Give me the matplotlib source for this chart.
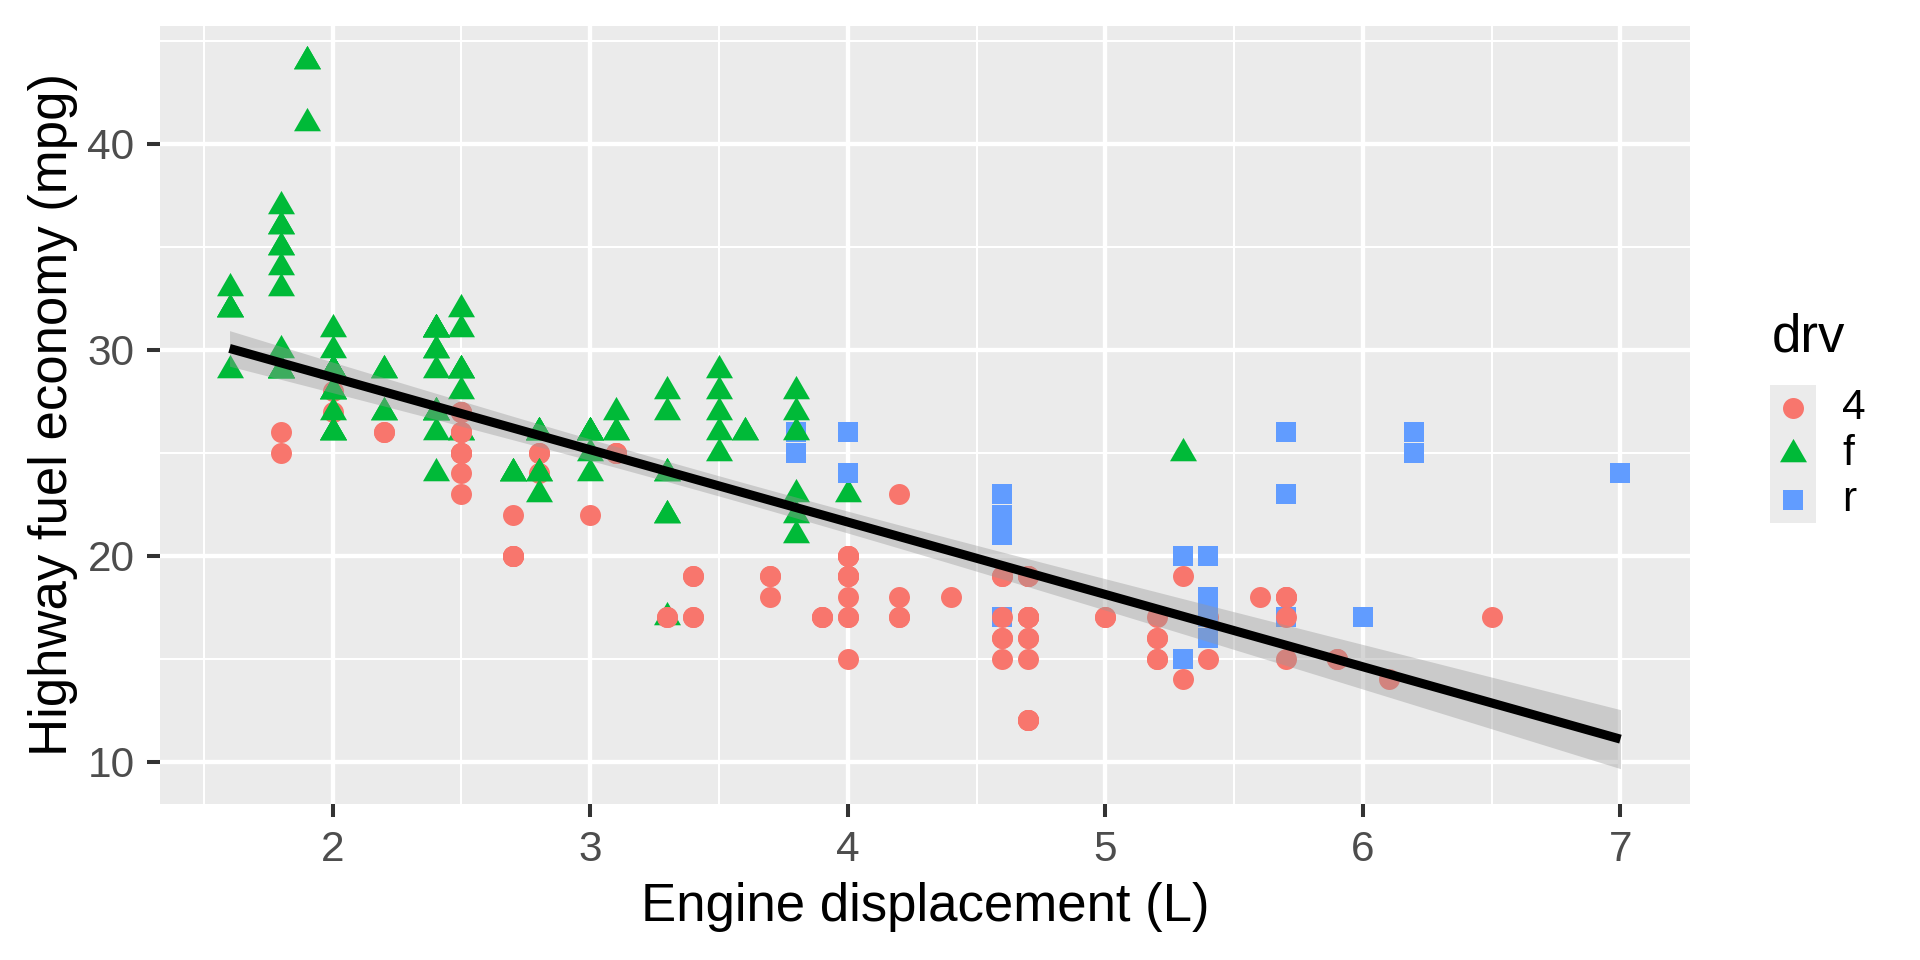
import numpy as np
import matplotlib
matplotlib.use("Agg")
import matplotlib.pyplot as plt

plt.rcParams['font.family'] = ['Liberation Sans', 'DejaVu Sans']

# mpg data in row order (engine displacement, highway mpg, drive train)
displ = [1.8, 1.8, 2.0, 2.0, 2.8, 2.8, 3.1,
         1.8, 1.8, 2.0, 2.0, 2.8, 2.8, 3.1, 3.1,
         2.8, 3.1, 4.2,
         5.3, 5.3, 5.3, 5.7, 6.0,
         5.7, 5.7, 6.2, 6.2, 7.0,
         5.3, 5.3, 5.7, 6.5,
         2.4, 2.4, 3.1, 3.5, 3.6,
         2.4, 3.0, 3.3, 3.3, 3.3, 3.3, 3.3, 3.8, 3.8, 3.8, 4.0,
         3.7, 3.7, 3.9, 3.9, 4.7, 4.7, 4.7, 5.2, 5.2,
         3.9, 4.7, 4.7, 4.7, 5.2, 5.7, 5.9,
         4.7, 4.7, 4.7, 4.7, 4.7, 5.2, 5.2, 5.7, 5.9,
         4.6, 5.4, 5.4,
         4.0, 4.0, 4.0, 4.0, 4.6, 5.0,
         4.2, 4.2, 4.6, 4.6, 4.6, 5.4, 5.4,
         3.8, 3.8, 4.0, 4.0, 4.6, 4.6, 4.6, 4.6, 5.4,
         1.6, 1.6, 1.6, 1.6, 1.6, 1.8, 1.8, 1.8, 2.0,
         2.4, 2.4, 2.4, 2.4, 2.5, 2.5, 3.3,
         2.0, 2.0, 2.0, 2.0, 2.7, 2.7, 2.7,
         3.0, 3.7, 4.0, 4.7, 4.7, 4.7, 5.7, 6.1,
         4.0, 4.2, 4.4, 4.6,
         5.4, 5.4, 5.4,
         4.0, 4.0, 4.6, 5.0,
         2.4, 2.4, 2.5, 2.5, 3.5, 3.5,
         3.0, 3.0, 3.5,
         3.3, 3.3, 4.0, 5.6,
         3.1, 3.8, 3.8, 3.8, 5.3,
         2.5, 2.5, 2.5, 2.5, 2.5, 2.5,
         2.2, 2.2, 2.5, 2.5, 2.5, 2.5, 2.5, 2.5,
         2.7, 2.7, 3.4, 3.4, 4.0, 4.7,
         2.2, 2.2, 2.4, 2.4, 3.0, 3.0, 3.5,
         2.2, 2.2, 2.4, 2.4, 3.0, 3.0, 3.3,
         1.8, 1.8, 1.8, 1.8, 1.8,
         4.7, 5.7,
         2.7, 2.7, 2.7, 3.4, 3.4, 4.0, 4.0,
         2.0, 2.0, 2.0, 2.0, 2.8,
         1.9, 2.0, 2.0, 2.0, 2.0, 2.5, 2.5, 2.8, 2.8,
         1.9, 1.9, 2.0, 2.0, 2.5, 2.5,
         1.8, 1.8, 2.0, 2.0, 2.8, 2.8, 3.6]
hwy = [29, 29, 31, 30, 26, 26, 27,
       26, 25, 28, 27, 25, 25, 25, 25,
       24, 25, 23,
       20, 15, 20, 17, 17,
       26, 23, 26, 25, 24,
       19, 14, 15, 17,
       27, 30, 26, 29, 26,
       24, 24, 22, 22, 24, 24, 17, 22, 21, 23, 23,
       19, 18, 17, 17, 19, 19, 12, 17, 15,
       17, 17, 12, 17, 16, 18, 15,
       16, 12, 17, 17, 16, 15, 16, 17, 15,
       17, 17, 18,
       17, 19, 19, 19, 19, 17,
       17, 17, 16, 16, 17, 15, 17,
       26, 25, 26, 24, 21, 22, 23, 22, 20,
       33, 32, 32, 29, 32, 34, 36, 36, 29,
       26, 27, 30, 31, 26, 26, 28,
       26, 29, 28, 27, 24, 24, 24,
       22, 19, 20, 17, 12, 19, 18, 14,
       15, 18, 18, 15,
       17, 16, 18,
       17, 19, 19, 17,
       29, 27, 31, 32, 27, 26,
       26, 25, 25,
       17, 17, 20, 18,
       26, 26, 27, 28, 25,
       25, 24, 27, 25, 26, 23,
       26, 26, 26, 26, 25, 27, 25, 27,
       20, 20, 19, 17, 20, 17,
       29, 27, 31, 31, 26, 26, 28,
       27, 29, 31, 31, 26, 26, 27,
       30, 33, 35, 37, 35,
       15, 18,
       20, 20, 22, 17, 19, 18, 20,
       29, 29, 28, 29, 24,
       44, 29, 26, 29, 29, 29, 29, 23, 24,
       44, 41, 29, 26, 28, 29,
       29, 29, 28, 29, 26, 26, 26]
drv = (list("fffffff") + list("44444444") + list("444") + list("rrrrr")
       + list("rrrrr") + list("4444") + list("fffff") + list("fffffffffff")
       + list("444444444") + list("4444444") + list("444444444") + list("rrr")
       + list("444444") + list("4444444") + list("rrrrrrrrr") + list("fffffffff")
       + list("fffffff") + list("fffffff") + list("44444444") + list("4444")
       + list("rrr") + list("4444") + list("ffffff") + list("fff") + list("4444")
       + list("fffff") + list("444444") + list("44444444") + list("444444")
       + list("fffffff") + list("fffffff") + list("fffff") + list("44")
       + list("4444444") + list("fffff") + list("fffffffff") + list("ffffff")
       + list("fffffff"))

drv_levels = ["4", "f", "r"]
drv_colors = {"4": "#F8766D", "f": "#00BA38", "r": "#619CFF"}

# ggplot-like shapes: circle, triangle (centred like R's pch 17), square
tri = [(0, 1.5551), (-1.3468, -0.7776), (1.3468, -0.7776), (0, 1.5551)]
drv_markers = {"4": "o", "f": tri, "r": "s"}
drv_sizes = {"4": 228, "f": 503, "r": 207}

x = np.array(displ, dtype=float)
y = np.array(hwy, dtype=float)

# linear fit with 95% confidence band
slope, intercept = np.polyfit(x, y, 1)
n = len(x)
resid = y - (intercept + slope * x)
s = np.sqrt(np.sum(resid ** 2) / (n - 2))
sxx = np.sum((x - x.mean()) ** 2)
t975 = 1.9703
xs = np.linspace(x.min(), x.max(), 80)
ys = intercept + slope * xs
se = s * np.sqrt(1.0 / n + (xs - x.mean()) ** 2 / sxx)
lo, hi = ys - t975 * se, ys + t975 * se

fig = plt.figure(figsize=(19.2, 9.6), dpi=100)
ax = fig.add_axes([160 / 1920, 1 - 804 / 960, 1530 / 1920, 778 / 960])
ax.set_facecolor("#EBEBEB")

for xi, yi, d in zip(displ, hwy, drv):
    ax.scatter(xi, yi, s=drv_sizes[d], marker=drv_markers[d], c=drv_colors[d],
               linewidths=0, zorder=3)

ax.fill_between(xs, lo, hi, color="#999999", alpha=0.4, linewidth=0, zorder=4)
ax.plot(xs, ys, color="black", lw=6.5, solid_capstyle="butt", zorder=5)

# limits with ggplot's 5% expansion
xr = x.max() - x.min()
ax.set_xlim(x.min() - 0.05 * xr, x.max() + 0.05 * xr)
ymin, ymax = min(y.min(), lo.min()), max(y.max(), hi.max())
yr = ymax - ymin
ax.set_ylim(ymin - 0.05 * yr, ymax + 0.05 * yr)

ax.set_xticks([2, 3, 4, 5, 6, 7])
ax.set_yticks([10, 20, 30, 40])
ax.set_xticks(np.arange(1.5, 7.5, 1.0), minor=True)
ax.set_yticks(np.arange(15, 50, 10), minor=True)
ax.grid(which="major", color="white", lw=3.1)
ax.grid(which="minor", color="white", lw=1.5)
ax.set_axisbelow(True)
for sp in ax.spines.values():
    sp.set_visible(False)
ax.tick_params(which="major", length=9.4, width=2.9, color="#333333",
               labelsize=30.5, labelcolor="#4D4D4D", pad=9)
ax.tick_params(which="minor", length=0)

ax.set_xlabel("Engine displacement (L)", fontsize=38, labelpad=9)
ax.set_ylabel("Highway fuel economy (mpg)", fontsize=38, labelpad=7)

# legend drawn as a small panel of keys
lax = fig.add_axes([1770 / 1920, 1 - 523 / 960, 46 / 1920, 138 / 960])
lax.set_facecolor("#EBEBEB")
lax.set_xlim(0, 1)
lax.set_ylim(0, 3)
lax.set_xticks([])
lax.set_yticks([])
for sp in lax.spines.values():
    sp.set_visible(False)
for i, d in enumerate(drv_levels):
    yk = 2.5 - i
    lax.scatter(0.5, yk, s=drv_sizes[d], marker=drv_markers[d], c=drv_colors[d],
                linewidths=0, clip_on=False)
    lax.text(1.57, yk, d, fontsize=30.5, va="center", ha="left", clip_on=False)
lax.text(0.04, 3.72, "drv", fontsize=38, va="baseline", ha="left", clip_on=False)

fig.savefig("out.png", dpi=100)
